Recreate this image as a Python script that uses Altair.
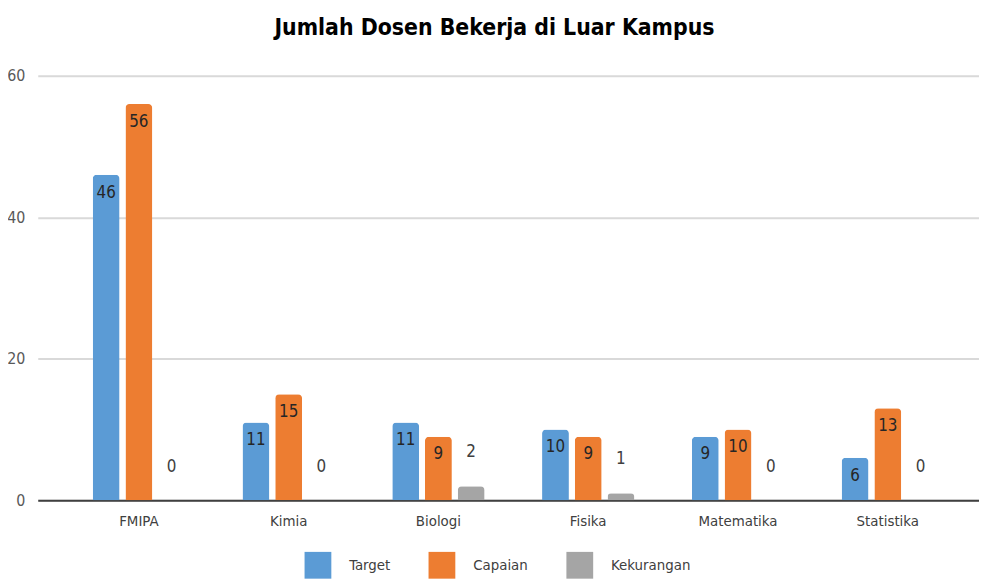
import altair as alt
import pandas as pd

categories = ["FMIPA", "Kimia", "Biologi", "Fisika", "Matematika", "Statistika"]
series = ["Target", "Capaian", "Kekurangan"]
target = [46, 11, 11, 10, 9, 6]
capaian = [56, 15, 9, 9, 10, 13]
kekurangan = [0, 0, 2, 1, 0, 0]
colors = ["#5b9bd5", "#ed7d31", "#a5a5a5"]
y_ticks = [0, 20, 40, 60]

rows = []
for s, vals in zip(series, [target, capaian, kekurangan]):
    for c, v in zip(categories, vals):
        rows.append({"Prodi": c, "Seri": s, "Nilai": v})
df = pd.DataFrame(rows)

FONT = "DejaVu Sans Condensed"

x = alt.X("Prodi:N", sort=categories,
          scale=alt.Scale(paddingInner=0, paddingOuter=0.142, align=0.616),
          axis=alt.Axis(title=None, labelAngle=0, ticks=False, domainColor="#404040",
                        domainWidth=2, labelColor="#404040", labelFontSize=15,
                        labelPadding=13, labelFont=FONT))
xo = alt.XOffset("Seri:N", sort=series,
                 scale=alt.Scale(paddingInner=0.18, paddingOuter=0.878))
y = alt.Y("Nilai:Q", scale=alt.Scale(domain=[0, 60], nice=False),
          axis=alt.Axis(title=None, values=y_ticks, domain=False, ticks=False,
                        gridColor="#d9d9d9", gridWidth=2, labelColor="#595959",
                        labelFontSize=16, labelPadding=13, labelFont=FONT))
color = alt.Color("Seri:N", sort=series,
                  scale=alt.Scale(domain=series, range=colors),
                  legend=alt.Legend(title=None, orient="none", direction="horizontal",
                                    legendX=269, legendY=480, symbolType="square",
                                    symbolSize=729, symbolStrokeWidth=0,
                                    labelFontSize=15, labelOffset=18, columnPadding=38,
                                    labelFont=FONT, labelColor="#404040"))

base = alt.Chart(df).encode(x=x, xOffset=xo, y=y)

bars = base.mark_bar(cornerRadiusTopLeft=4, cornerRadiusTopRight=4).encode(color=color)

text_in = base.transform_filter(alt.datum.Seri != "Kekurangan").mark_text(
    dy=18, baseline="middle", fontSize=17, font=FONT, color="#262626"
).encode(text="Nilai:Q")

text_out = base.transform_filter(alt.datum.Seri == "Kekurangan").mark_text(
    dy=-34, baseline="middle", fontSize=17, font=FONT, color="#404040"
).encode(text="Nilai:Q")

chart = alt.layer(bars, text_in, text_out).properties(
    width=949, height=428,
    autosize=alt.AutoSizeParams(type="none"),
    padding={"left": 30, "top": 66, "right": 0, "bottom": 80},
    title=alt.TitleParams("Jumlah Dosen Bekerja di Luar Kampus", font=FONT, fontSize=23,
                          fontWeight="bold", color="#000000", offset=28, dx=-14,
                          anchor="middle"),
).configure_view(stroke=None)

chart.save("out.html", embed_options={"renderer": "svg", "actions": False})
